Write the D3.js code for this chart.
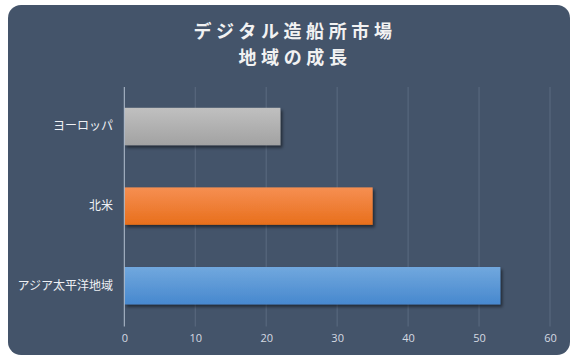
<!DOCTYPE html>
<html>
<head>
<meta charset="utf-8">
<script src="https://cdn.jsdelivr.net/npm/d3@7/dist/d3.min.js"></script>
<style>
  html, body { margin: 0; padding: 0; background: #ffffff; }
  svg { display: block; }
</style>
</head>
<body>
<svg id="chart" width="575" height="364"></svg>
<script>
const titleLines = ["デジタル造船所市場", "地域の成長"];
const categories = ["ヨーロッパ", "北米", "アジア太平洋地域"];
const values = [22, 35, 53];
const tickValues = [0, 10, 20, 30, 40, 50, 60];
const barColors = [
  ["#c0c0c0", "#a2a2a2"],
  ["#f68f52", "#e86f1c"],
  ["#71a8de", "#4788ce"]
];

const svg = d3.select("#chart");

const defs = svg.append("defs");
const shadow = defs.append("filter").attr("id", "shadow")
  .attr("x", "-10%").attr("y", "-20%").attr("width", "130%").attr("height", "160%");
shadow.append("feDropShadow").attr("dx", 2).attr("dy", 2.5)
  .attr("stdDeviation", 1.5).attr("flood-color", "#000").attr("flood-opacity", 0.5);

barColors.forEach((c, i) => {
  const g = defs.append("linearGradient").attr("id", "grad" + i)
    .attr("x1", 0).attr("y1", 0).attr("x2", 0).attr("y2", 1);
  g.append("stop").attr("offset", "0%").attr("stop-color", c[0]);
  g.append("stop").attr("offset", "100%").attr("stop-color", c[1]);
});

// panel
svg.append("rect").attr("x", 8).attr("y", 5).attr("width", 562).attr("height", 350)
  .attr("rx", 13).attr("ry", 13).attr("fill", "#44546a");

// title
const title = svg.append("text")
  .attr("text-anchor", "middle")
  .attr("fill", "#f2f2f2")
  .attr("font-family", "'Noto Sans CJK JP', 'Noto Sans', sans-serif")
  .attr("font-weight", "bold")
  .attr("font-size", 18)
  .attr("letter-spacing", 4.6);
titleLines.forEach((t, i) => {
  title.append("tspan").attr("x", 295).attr("y", 38 + i * 25.5).text(t);
});

const x = d3.scaleLinear().domain([0, 60]).range([124.3, 550]);
const y = d3.scaleBand().domain(categories).range([86.7, 325.5])
  .paddingInner(0.53).paddingOuter(0.265);

// gridlines
svg.append("g").selectAll("line").data(tickValues.slice(1)).join("line")
  .attr("x1", d => x(d)).attr("x2", d => x(d))
  .attr("y1", 87).attr("y2", 326.5)
  .attr("stroke", "#5b6a80").attr("stroke-width", 1);

// bars
svg.append("g").selectAll("rect").data(categories).join("rect")
  .attr("x", x(0))
  .attr("y", d => y(d))
  .attr("width", (d, i) => x(values[i]) - x(0))
  .attr("height", y.bandwidth())
  .attr("fill", (d, i) => `url(#grad${i})`)
  .attr("filter", "url(#shadow)");

// zero axis line
svg.append("line")
  .attr("x1", x(0)).attr("x2", x(0)).attr("y1", 87).attr("y2", 326.5)
  .attr("stroke", "#b4c0d0").attr("stroke-width", 1);

// x axis tick labels
const xAxis = d3.axisBottom(x).tickValues(tickValues).tickSize(0).tickPadding(0);
const xg = svg.append("g").attr("transform", "translate(0,334)").call(xAxis);
xg.select(".domain").remove();
xg.selectAll("text")
  .attr("fill", "#d4dae2")
  .attr("font-family", "'Open Sans', 'Noto Sans', sans-serif")
  .attr("font-size", 11);

// y axis labels
const yAxis = d3.axisLeft(y).tickSize(0).tickPadding(0);
const yg = svg.append("g").attr("transform", "translate(113,0)").call(yAxis);
yg.select(".domain").remove();
yg.selectAll("text")
  .attr("fill", "#eef0f4")
  .attr("font-family", "'Noto Sans CJK JP', sans-serif")
  .attr("font-size", 12);
</script>
</body>
</html>
